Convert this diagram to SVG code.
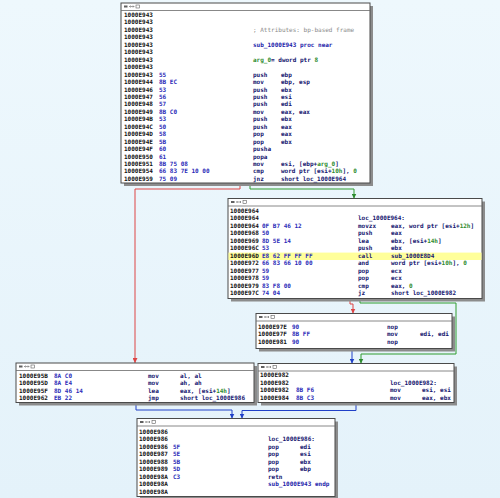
<svg xmlns="http://www.w3.org/2000/svg" width="500" height="498" viewBox="0 0 500 498">
<defs>
<linearGradient id="bg" x1="0" y1="0" x2="0" y2="1">
<stop offset="0" stop-color="#eef8fd"/>
<stop offset="1" stop-color="#e4f2fa"/>
</linearGradient>
<marker id="ar" viewBox="0 0 6 6" refX="6" refY="3" markerWidth="5" markerHeight="5" orient="auto" markerUnits="userSpaceOnUse"><path d="M0,0 L6,3 L0,6 z" fill="#dd4444"/></marker>
<marker id="ag" viewBox="0 0 6 6" refX="6" refY="3" markerWidth="5" markerHeight="5" orient="auto" markerUnits="userSpaceOnUse"><path d="M0,0 L6,3 L0,6 z" fill="#2e8b2e"/></marker>
<marker id="ab" viewBox="0 0 6 6" refX="6" refY="3" markerWidth="5" markerHeight="5" orient="auto" markerUnits="userSpaceOnUse"><path d="M0,0 L6,3 L0,6 z" fill="#2040c8"/></marker>
<g id="icons"><rect x="3" y="2.5" width="3.5" height="2" fill="#606060"/><path d="M8.5,3.5 H13 M9.5,2.5 L8.5,3.5 L9.5,4.5 M12,2.5 L13,3.5 L12,4.5" stroke="#606060" stroke-width="0.6" fill="none"/><rect x="15" y="2" width="3.5" height="3" fill="none" stroke="#606060" stroke-width="0.6"/></g>
</defs>
<style>
.sh{fill:#8c8c8c}
.bx{fill:#ffffff;stroke:#4a4a4a;stroke-width:1}
.sep{stroke:#6a6a6a;stroke-width:0.8}
text{font-family:"DejaVu Sans Mono","Liberation Mono",monospace;font-size:6px;font-weight:bold}
.a{fill:#111111}
.h{fill:#2b2bb8}
.m{fill:#14146e}
.g{fill:#2e8b2e}
.c{fill:#8a8a8a;font-weight:normal}
.l{fill:none;stroke-width:1}
.r{stroke:#dd4444}
.gr{stroke:#2e9b2e}
.b{stroke:#2040c8}
</style>
<rect width="500" height="498" fill="url(#bg)"/>

<g id="connectors">
<path class="l r" d="M240,183 V189 H135 V363" marker-end="url(#ar)"/>
<path class="l gr" d="M250,183 V189 H354 V198.5" marker-end="url(#ag)"/>
<path class="l r" d="M350,298.5 V304 H353 V313.5" marker-end="url(#ar)"/>
<path class="l gr" d="M360,298.5 V303 H456 V354 H361 V363.5" marker-end="url(#ag)"/>
<path class="l b" d="M352,348.5 V363.5" marker-end="url(#ab)"/>
<path class="l b" d="M136,402.5 V410 H232 V418.5" marker-end="url(#ab)"/>
<path class="l b" d="M356,402.5 V410.5 H242 V418.5" marker-end="url(#ab)"/>
</g>

<g id="node1">
<rect class="sh" x="124" y="6" width="249" height="180"/>
<rect class="bx" x="121" y="3" width="249" height="180"/>
<use href="#icons" x="121" y="3"/>
<line class="sep" x1="121" y1="10.5" x2="370" y2="10.5"/>
<text class="a" x="124" y="17">1000E943</text>
<text class="a" x="124" y="24.45">1000E943</text>
<text class="a" x="124" y="31.9">1000E943</text>
<text class="c" x="253" y="31.9">; Attributes: bp-based frame</text>
<text class="a" x="124" y="39.35">1000E943</text>
<text class="a" x="124" y="46.8">1000E943</text>
<text class="m" x="253" y="46.8" style="fill:#1c1caa">sub_1000E943 proc near</text>
<text class="a" x="124" y="54.25">1000E943</text>
<text class="a" x="124" y="61.7">1000E943</text>
<text x="253" y="61.7"><tspan class="g">arg_0</tspan><tspan class="m">= dword ptr  </tspan><tspan class="g">8</tspan></text>
<text class="a" x="124" y="69.15">1000E943</text>
<text class="a" x="124" y="76.6">1000E943</text><text class="h" x="159" y="76.6">55</text><text class="m" x="253" y="76.6">push</text><text class="m" x="281" y="76.6">ebp</text>
<text class="a" x="124" y="84.05">1000E944</text><text class="h" x="159" y="84.05">8B EC</text><text class="m" x="253" y="84.05">mov</text><text class="m" x="281" y="84.05">ebp, esp</text>
<text class="a" x="124" y="91.5">1000E946</text><text class="h" x="159" y="91.5">53</text><text class="m" x="253" y="91.5">push</text><text class="m" x="281" y="91.5">ebx</text>
<text class="a" x="124" y="98.95">1000E947</text><text class="h" x="159" y="98.95">56</text><text class="m" x="253" y="98.95">push</text><text class="m" x="281" y="98.95">esi</text>
<text class="a" x="124" y="106.4">1000E948</text><text class="h" x="159" y="106.4">57</text><text class="m" x="253" y="106.4">push</text><text class="m" x="281" y="106.4">edi</text>
<text class="a" x="124" y="113.85">1000E949</text><text class="h" x="159" y="113.85">8B C0</text><text class="m" x="253" y="113.85">mov</text><text class="m" x="281" y="113.85">eax, eax</text>
<text class="a" x="124" y="121.3">1000E94B</text><text class="h" x="159" y="121.3">53</text><text class="m" x="253" y="121.3">push</text><text class="m" x="281" y="121.3">ebx</text>
<text class="a" x="124" y="128.75">1000E94C</text><text class="h" x="159" y="128.75">50</text><text class="m" x="253" y="128.75">push</text><text class="m" x="281" y="128.75">eax</text>
<text class="a" x="124" y="136.2">1000E94D</text><text class="h" x="159" y="136.2">58</text><text class="m" x="253" y="136.2">pop</text><text class="m" x="281" y="136.2">eax</text>
<text class="a" x="124" y="143.65">1000E94E</text><text class="h" x="159" y="143.65">5B</text><text class="m" x="253" y="143.65">pop</text><text class="m" x="281" y="143.65">ebx</text>
<text class="a" x="124" y="151.1">1000E94F</text><text class="h" x="159" y="151.1">60</text><text class="m" x="253" y="151.1">pusha</text>
<text class="a" x="124" y="158.55">1000E950</text><text class="h" x="159" y="158.55">61</text><text class="m" x="253" y="158.55">popa</text>
<text class="a" x="124" y="166">1000E951</text><text class="h" x="159" y="166">8B 75 08</text><text class="m" x="253" y="166">mov</text><text x="281" y="166"><tspan class="m">esi, [ebp+</tspan><tspan class="g">arg_0</tspan><tspan class="m">]</tspan></text>
<text class="a" x="124" y="173.45">1000E954</text><text class="h" x="159" y="173.45">66 83 7E 10 00</text><text class="m" x="253" y="173.45">cmp</text><text x="281" y="173.45"><tspan class="m">word ptr [esi+</tspan><tspan class="g">10h</tspan><tspan class="m">], </tspan><tspan class="g">0</tspan></text>
<text class="a" x="124" y="180.9">1000E959</text><text class="h" x="159" y="180.9">75 09</text><text class="m" x="253" y="180.9">jnz</text><text class="m" x="281" y="180.9">short loc_1000E964</text>
</g>

<g id="node2">
<rect class="sh" x="231" y="201.5" width="254" height="100"/>
<rect class="bx" x="228" y="198.5" width="254" height="100"/>
<rect x="228.5" y="252.6" width="253" height="7.4" fill="#ffff9a"/>
<use href="#icons" x="228" y="198.5"/>
<line class="sep" x1="228" y1="206" x2="482" y2="206"/>
<text class="a" x="230" y="213">1000E964</text>
<text class="a" x="230" y="220.45">1000E964</text><text class="m" x="358" y="220.45">loc_1000E964:</text>
<text class="a" x="230" y="227.9">1000E964</text><text class="h" x="262" y="227.9">0F B7 46 12</text><text class="m" x="358" y="227.9">movzx</text><text x="391" y="227.9"><tspan class="m">eax, word ptr [esi+</tspan><tspan class="g">12h</tspan><tspan class="m">]</tspan></text>
<text class="a" x="230" y="235.35">1000E968</text><text class="h" x="262" y="235.35">50</text><text class="m" x="358" y="235.35">push</text><text class="m" x="391" y="235.35">eax</text>
<text class="a" x="230" y="242.8">1000E969</text><text class="h" x="262" y="242.8">8D 5E 14</text><text class="m" x="358" y="242.8">lea</text><text x="391" y="242.8"><tspan class="m">ebx, [esi+</tspan><tspan class="g">14h</tspan><tspan class="m">]</tspan></text>
<text class="a" x="230" y="250.25">1000E96C</text><text class="h" x="262" y="250.25">53</text><text class="m" x="358" y="250.25">push</text><text class="m" x="391" y="250.25">ebx</text>
<text class="a" x="230" y="257.7">1000E96D</text><text class="h" x="262" y="257.7">E8 62 FF FF FF</text><text class="m" x="358" y="257.7">call</text><text class="m" x="391" y="257.7">sub_1000E8D4</text>
<text class="a" x="230" y="265.15">1000E972</text><text class="h" x="262" y="265.15">66 83 66 10 00</text><text class="m" x="358" y="265.15">and</text><text x="391" y="265.15"><tspan class="m">word ptr [esi+</tspan><tspan class="g">10h</tspan><tspan class="m">], </tspan><tspan class="g">0</tspan></text>
<text class="a" x="230" y="272.6">1000E977</text><text class="h" x="262" y="272.6">59</text><text class="m" x="358" y="272.6">pop</text><text class="m" x="391" y="272.6">ecx</text>
<text class="a" x="230" y="280.05">1000E978</text><text class="h" x="262" y="280.05">59</text><text class="m" x="358" y="280.05">pop</text><text class="m" x="391" y="280.05">ecx</text>
<text class="a" x="230" y="287.5">1000E979</text><text class="h" x="262" y="287.5">83 F8 00</text><text class="m" x="358" y="287.5">cmp</text><text x="391" y="287.5"><tspan class="m">eax, </tspan><tspan class="g">0</tspan></text>
<text class="a" x="230" y="294.95">1000E97C</text><text class="h" x="262" y="294.95">74 04</text><text class="m" x="358" y="294.95">jz</text><text class="m" x="391" y="294.95">short loc_1000E982</text>
</g>

<g id="node3">
<rect class="sh" x="259" y="316.5" width="196" height="35"/>
<rect class="bx" x="256" y="313.5" width="196" height="35"/>
<use href="#icons" x="256" y="313.5"/>
<line class="sep" x1="256" y1="321" x2="452" y2="321"/>
<text class="a" x="258" y="328.5">1000E97E</text><text class="h" x="292" y="328.5">90</text><text class="m" x="387" y="328.5">nop</text>
<text class="a" x="258" y="336">1000E97F</text><text class="h" x="292" y="336">8B FF</text><text class="m" x="387" y="336">mov</text><text class="m" x="420" y="336">edi, edi</text>
<text class="a" x="258" y="343.5">1000E981</text><text class="h" x="292" y="343.5">90</text><text class="m" x="387" y="343.5">nop</text>
</g>

<g id="node4">
<rect class="sh" x="19" y="366" width="238" height="39.5"/>
<rect class="bx" x="16" y="363" width="238" height="39.5"/>
<use href="#icons" x="16" y="363"/>
<line class="sep" x1="16" y1="370.5" x2="254" y2="370.5"/>
<text class="a" x="19" y="377.5">1000E95B</text><text class="h" x="54" y="377.5">8A C0</text><text class="m" x="148" y="377.5">mov</text><text class="m" x="180" y="377.5">al, al</text>
<text class="a" x="19" y="385">1000E95D</text><text class="h" x="54" y="385">8A E4</text><text class="m" x="148" y="385">mov</text><text class="m" x="180" y="385">ah, ah</text>
<text class="a" x="19" y="392.5">1000E95F</text><text class="h" x="54" y="392.5">8D 46 14</text><text class="m" x="148" y="392.5">lea</text><text x="180" y="392.5"><tspan class="m">eax, [esi+</tspan><tspan class="g">14h</tspan><tspan class="m">]</tspan></text>
<text class="a" x="19" y="400">1000E962</text><text class="h" x="54" y="400">EB 22</text><text class="m" x="148" y="400">jmp</text><text class="m" x="180" y="400">short loc_1000E986</text>
</g>

<g id="node5">
<rect class="sh" x="261" y="366.5" width="196" height="39"/>
<rect class="bx" x="258" y="363.5" width="196" height="39"/>
<use href="#icons" x="258" y="363.5"/>
<line class="sep" x1="258" y1="371" x2="454" y2="371"/>
<text class="a" x="260" y="377">1000E982</text>
<text class="a" x="260" y="384.5">1000E982</text><text class="m" x="390" y="384.5">loc_1000E982:</text>
<text class="a" x="260" y="392">1000E982</text><text class="h" x="296" y="392">8B F6</text><text class="m" x="390" y="392">mov</text><text class="m" x="422" y="392">esi, esi</text>
<text class="a" x="260" y="399.5">1000E984</text><text class="h" x="296" y="399.5">8B C3</text><text class="m" x="390" y="399.5">mov</text><text class="m" x="422" y="399.5">eax, ebx</text>
</g>

<g id="node6">
<rect class="sh" x="140" y="421.5" width="198" height="78"/>
<rect class="bx" x="137" y="418.5" width="198" height="78"/>
<use href="#icons" x="137" y="418.5"/>
<line class="sep" x1="137" y1="426" x2="335" y2="426"/>
<text class="a" x="139" y="433.5">1000E986</text>
<text class="a" x="139" y="441">1000E986</text><text class="m" x="268" y="441">loc_1000E986:</text>
<text class="a" x="139" y="448.5">1000E986</text><text class="h" x="173" y="448.5">5F</text><text class="m" x="268" y="448.5">pop</text><text class="m" x="300" y="448.5">edi</text>
<text class="a" x="139" y="456">1000E987</text><text class="h" x="173" y="456">5E</text><text class="m" x="268" y="456">pop</text><text class="m" x="300" y="456">esi</text>
<text class="a" x="139" y="463.5">1000E988</text><text class="h" x="173" y="463.5">5B</text><text class="m" x="268" y="463.5">pop</text><text class="m" x="300" y="463.5">ebx</text>
<text class="a" x="139" y="471">1000E989</text><text class="h" x="173" y="471">5D</text><text class="m" x="268" y="471">pop</text><text class="m" x="300" y="471">ebp</text>
<text class="a" x="139" y="478.5">1000E98A</text><text class="h" x="173" y="478.5">C3</text><text class="m" x="268" y="478.5">retn</text>
<text class="a" x="139" y="486">1000E98A</text><text class="m" x="268" y="486" style="fill:#1c1caa">sub_1000E943 endp</text>
<text class="a" x="139" y="493.5">1000E98A</text>
</g>
</svg>
